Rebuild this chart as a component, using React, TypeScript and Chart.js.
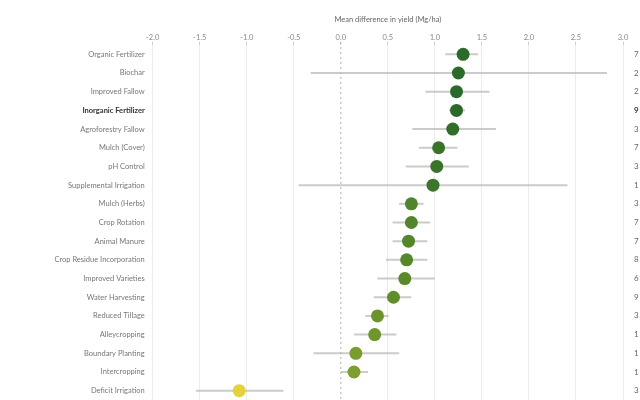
import React, { useEffect, useRef } from "react";
import { Chart, registerables } from "chart.js";

Chart.register(...registerables);

const practices = [
  "Organic Fertilizer",
  "Biochar",
  "Improved Fallow",
  "Inorganic Fertilizer",
  "Agroforestry Fallow",
  "Mulch (Cover)",
  "pH Control",
  "Supplemental Irrigation",
  "Mulch (Herbs)",
  "Crop Rotation",
  "Animal Manure",
  "Crop Residue Incorporation",
  "Improved Varieties",
  "Water Harvesting",
  "Reduced Tillage",
  "Alleycropping",
  "Boundary Planting",
  "Intercropping",
  "Deficit Irrigation",
];

const meanDiff = [1.3, 1.25, 1.23, 1.23, 1.19, 1.04, 1.02, 0.98, 0.75, 0.75, 0.72, 0.7, 0.68, 0.56, 0.39, 0.36, 0.16, 0.14, -1.08];
const ciLow = [1.11, -0.32, 0.9, 1.15, 0.76, 0.83, 0.69, -0.45, 0.62, 0.55, 0.55, 0.48, 0.39, 0.35, 0.26, 0.14, -0.29, 0.0, -1.54];
const ciHigh = [1.46, 2.83, 1.58, 1.32, 1.65, 1.24, 1.36, 2.41, 0.88, 0.95, 0.92, 0.92, 1.0, 0.75, 0.51, 0.59, 0.62, 0.29, -0.61];
const counts = ["7", "2", "2", "9", "3", "7", "3", "1", "3", "7", "7", "8", "6", "9", "3", "1", "1", "1", "3"];
const xTicks = [-2, -1.5, -1, -0.5, 0, 0.5, 1, 1.5, 2, 2.5, 3];

const pointColors = [
  "#2b6a2b", "#2b6a2b", "#2b6a2b", "#2b6a2b", "#316e2b", "#3a742b", "#3a742b", "#3c752b",
  "#52852b", "#52852b", "#54872b", "#56882b", "#58892b", "#5f8e2b", "#6b952c", "#6d962c",
  "#7a9e2e", "#7c9f2e", "#e3d23c",
];

const BOLD_ROW = "Inorganic Fertilizer";
const FONT = "Lato, 'Open Sans', sans-serif";

const extrasPlugin = {
  id: "extras",
  beforeDatasetsDraw(chart: any) {
    const { ctx, chartArea, scales } = chart;
    const xs = scales.x;
    const ys = scales.y;
    ctx.save();
    // zero line dashed
    const x0 = xs.getPixelForValue(0);
    ctx.strokeStyle = "#b0b0b0";
    ctx.lineWidth = 1;
    ctx.setLineDash([2, 3]);
    ctx.beginPath();
    ctx.moveTo(x0, chartArea.top - 3);
    ctx.lineTo(x0, chartArea.bottom);
    ctx.stroke();
    ctx.setLineDash([]);
    // error bars
    ctx.strokeStyle = "rgba(185,185,185,0.75)";
    ctx.lineWidth = 2;
    for (let i = 0; i < practices.length; i++) {
      const y = ys.getPixelForValue(i);
      ctx.beginPath();
      ctx.moveTo(xs.getPixelForValue(ciLow[i]), y);
      ctx.lineTo(xs.getPixelForValue(ciHigh[i]), y);
      ctx.stroke();
    }
    ctx.restore();
  },
  afterDraw(chart: any) {
    const { ctx, scales, chartArea } = chart;
    const ys = scales.y;
    ctx.save();
    ctx.textBaseline = "middle";
    for (let i = 0; i < practices.length; i++) {
      const bold = practices[i] === BOLD_ROW;
      const y = ys.getPixelForValue(i);
      ctx.font = `${bold ? "bold " : ""}7.5px ${FONT}`;
      ctx.fillStyle = bold ? "#333" : "#777";
      ctx.textAlign = "right";
      ctx.fillText(practices[i], chartArea.left - 8, y);
      ctx.font = `${bold ? "bold " : ""}8px ${FONT}`;
      ctx.fillStyle = bold ? "#333" : "#666";
      ctx.textAlign = "left";
      ctx.fillText(counts[i], 634, y);
    }
    ctx.restore();
  },
};

export default function App() {
  const ref = useRef<HTMLCanvasElement>(null);
  useEffect(() => {
    if (!ref.current) return;
    const chart = new Chart(ref.current, {
      type: "scatter",
      data: {
        labels: practices,
        datasets: [
          {
            data: practices.map((p, i) => ({ x: meanDiff[i], y: p })),
            backgroundColor: pointColors,
            borderColor: pointColors,
            pointRadius: 6.5,
            pointHoverRadius: 6.5,
            borderWidth: 0,
          },
        ],
      },
      options: {
        animation: false,
        responsive: false,
        maintainAspectRatio: false,
        layout: { autoPadding: false, padding: { top: 15, right: 17, bottom: -2, left: 0 } },
        plugins: {
          legend: { display: false },
          tooltip: { enabled: false },
        },
        scales: {
          x: {
            type: "linear",
            position: "top",
            min: -2,
            max: 3,
            afterBuildTicks: (scale: any) => {
              scale.ticks = xTicks.map((v) => ({ value: v }));
            },
            ticks: {
              font: { size: 7.5, family: FONT },
              color: "#888",
              padding: 0,
              callback: (v: any) => Number(v).toFixed(1),
            },
            grid: {
              color: (c: any) => (c.tick && c.tick.value === 0 ? "rgba(0,0,0,0)" : "#ececec"),
              tickColor: "#cfcfcf",
              tickLength: 3,
              lineWidth: 1,
            },
            border: { display: false },
            title: {
              display: true,
              text: "Mean difference in yield (Mg/ha)",
              font: { size: 7.5, family: FONT },
              color: "#666",
              padding: { top: 0, bottom: 9 },
            },
          },
          y: {
            type: "category",
            labels: practices,
            offset: true,
            afterFit: (scale: any) => {
              scale.width = 152.7;
            },
            ticks: { display: false },
            grid: { display: false },
            border: { display: false },
          },
        },
      },
      plugins: [extrasPlugin],
    });
    return () => chart.destroy();
  }, []);
  return (
    <div style={{ position: "fixed", left: 0, top: 0, width: 640, height: 400, background: "#fff" }}>
      <canvas ref={ref} width={640} height={400} style={{ display: "block" }} />
    </div>
  );
}
